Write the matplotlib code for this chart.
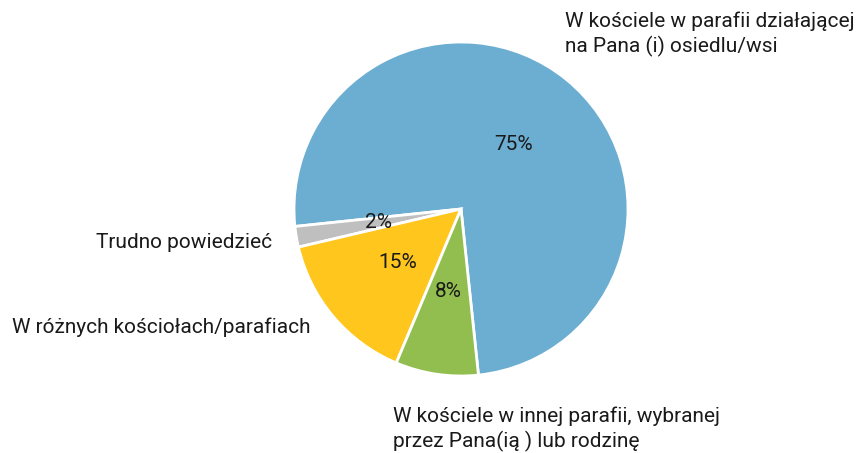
import matplotlib
matplotlib.use("Agg")
import matplotlib.pyplot as plt

plt.rcParams["font.family"] = ["Roboto", "DejaVu Sans"]

labels = [
    "W kościele w parafii działającej\nna Pana (i) osiedlu/wsi",
    "Trudno powiedzieć",
    "W różnych kościołach/parafiach",
    "W kościele w innej parafii, wybranej\nprzez Pana(ią ) lub rodzinę",
]
values = [75, 2, 15, 8]
colors = ["#6BAED1", "#BFBFBF", "#FFC61E", "#92BE50"]

W, H = 861, 453
fig = plt.figure(figsize=(W / 100, H / 100), dpi=100)

cx, cy, r = 461, 209, 167
ax = fig.add_axes([(cx - r) / W, (H - cy - r) / H, 2 * r / W, 2 * r / H])
ax.pie(
    values,
    colors=colors,
    startangle=-84,
    counterclock=True,
    autopct=lambda p: f"{p:.0f}%",
    pctdistance=0.5,
    wedgeprops=dict(edgecolor="white", linewidth=2),
    textprops=dict(fontsize=15, color="#1a1a1a"),
)
ax.set_xlim(-1, 1)
ax.set_ylim(-1, 1)

# outside labels placed in pixel positions
def px(x, y):
    return x / W, 1 - y / H

kw = dict(fontsize=15, color="#1a1a1a", linespacing=1.3)
fig.text(*px(565, 34), labels[0], ha="left", va="center", **kw)
fig.text(*px(272, 243), labels[1], ha="right", va="center", **kw)
fig.text(*px(311, 327), labels[2], ha="right", va="center", **kw)
fig.text(*px(393, 429), labels[3], ha="left", va="center", **kw)

fig.savefig("out.png", dpi=100)
